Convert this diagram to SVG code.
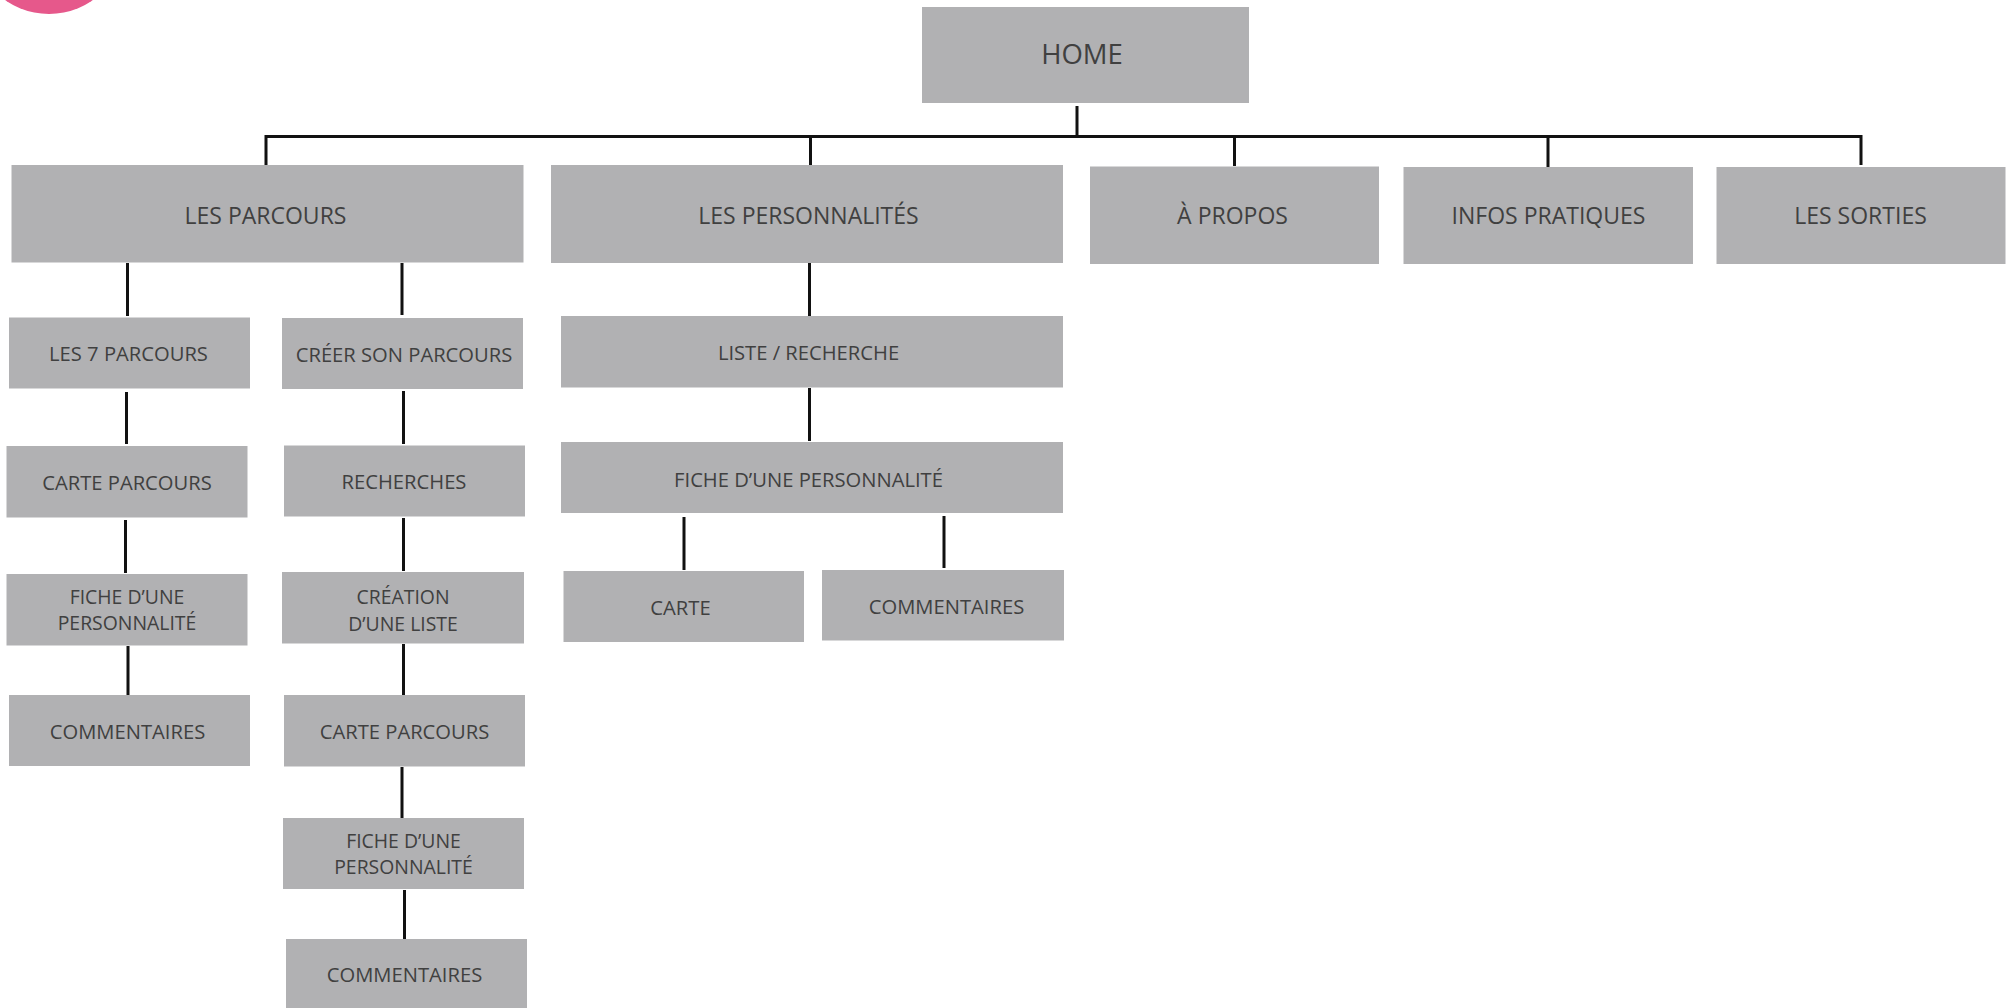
<svg xmlns="http://www.w3.org/2000/svg" width="2008" height="1008" viewBox="0 0 2008 1008">
<style>
.box{fill:#b1b1b3}
.t{font-family:"Open Sans","Noto Sans","DejaVu Sans",sans-serif;fill:#404040;text-anchor:middle}
.t0{font-size:27.5px}
.t1{font-size:23px}
.t2{font-size:20.2px}
.t3{font-size:19.4px}
.c{stroke:#111;stroke-width:3;fill:none}
</style>
<rect width="2008" height="1008" fill="#ffffff"/>
<circle cx="49" cy="-62" r="76" fill="#e6588b"/>
<g id="connectors">
<path class="c" d="M1077 106V136.5"/>
<path class="c" d="M266 165V136.5H1861V165"/>
<path class="c" d="M810.5 136.5V165M1234.5 136.5V166M1548 136.5V167"/>
<path class="c" d="M127.5 263V316M402 263V315"/>
<path class="c" d="M126.5 392V444M125.5 520V573M128 646V695"/>
<path class="c" d="M403.5 391V444M403.5 518V571M403.5 644V695M402 767V818M404.5 890V939"/>
<path class="c" d="M809.5 263V316M809.5 388V441M684 517V570M944 516V568"/>
</g>
<g id="home"><rect class="box" x="922" y="7" width="327" height="96"/><text class="t t0" x="1082" y="64">HOME</text></g>
<g id="les-parcours"><rect class="box" x="11.5" y="165" width="512" height="97.5"/><text class="t t1" x="265.5" y="224">LES PARCOURS</text></g>
<g id="les-personnalites"><rect class="box" x="551" y="165" width="512" height="98"/><text class="t t1" x="808.5" y="224">LES PERSONNALITÉS</text></g>
<g id="a-propos"><rect class="box" x="1090" y="166.5" width="289" height="97.5"/><text class="t t1" x="1232.5" y="224">À PROPOS</text></g>
<g id="infos-pratiques"><rect class="box" x="1403.5" y="167" width="289.5" height="97"/><text class="t t1" x="1548.5" y="224">INFOS PRATIQUES</text></g>
<g id="les-sorties"><rect class="box" x="1716.5" y="167" width="289" height="97"/><text class="t t1" x="1860.5" y="224">LES SORTIES</text></g>
<g id="les-7-parcours"><rect class="box" x="9" y="317.5" width="241" height="71"/><text class="t t2" x="128.5" y="361">LES 7 PARCOURS</text></g>
<g id="carte-parcours-1"><rect class="box" x="6.5" y="446" width="241" height="71.5"/><text class="t t2" x="127" y="489.5">CARTE PARCOURS</text></g>
<g id="fiche-personnalite-1"><rect class="box" x="6.5" y="574" width="241" height="71.5"/><text class="t t3"><tspan x="127" y="603.5">FICHE D’UNE</tspan><tspan x="127" y="630">PERSONNALITÉ</tspan></text></g>
<g id="commentaires-1"><rect class="box" x="9" y="695" width="241" height="71"/><text class="t t2" x="127.5" y="739">COMMENTAIRES</text></g>
<g id="creer-son-parcours"><rect class="box" x="282" y="318" width="241" height="71"/><text class="t t2" x="404" y="361.5">CRÉER SON PARCOURS</text></g>
<g id="recherches"><rect class="box" x="284" y="445.5" width="241" height="71"/><text class="t t2" x="404" y="489">RECHERCHES</text></g>
<g id="creation-liste"><rect class="box" x="282" y="572" width="242" height="71.5"/><text class="t t3"><tspan x="403" y="604">CRÉATION</tspan><tspan x="403" y="630.5">D’UNE LISTE</tspan></text></g>
<g id="carte-parcours-2"><rect class="box" x="284" y="695" width="241" height="71.5"/><text class="t t2" x="404.5" y="739">CARTE PARCOURS</text></g>
<g id="fiche-personnalite-2"><rect class="box" x="283" y="818" width="241" height="71"/><text class="t t3"><tspan x="403.5" y="847.5">FICHE D’UNE</tspan><tspan x="403.5" y="874">PERSONNALITÉ</tspan></text></g>
<g id="commentaires-2"><rect class="box" x="286" y="939" width="241" height="69"/><text class="t t2" x="404.5" y="982">COMMENTAIRES</text></g>
<g id="liste-recherche"><rect class="box" x="561" y="316" width="502" height="71.5"/><text class="t t2" x="808.5" y="359.5">LISTE / RECHERCHE</text></g>
<g id="fiche-personnalite-3"><rect class="box" x="561" y="442" width="502" height="71"/><text class="t t2" x="808.5" y="487">FICHE D’UNE PERSONNALITÉ</text></g>
<g id="carte"><rect class="box" x="563.5" y="571" width="240.5" height="71"/><text class="t t2" x="680.5" y="614.5">CARTE</text></g>
<g id="commentaires-3"><rect class="box" x="822" y="570" width="242" height="70.5"/><text class="t t2" x="946.5" y="614">COMMENTAIRES</text></g>
</svg>
